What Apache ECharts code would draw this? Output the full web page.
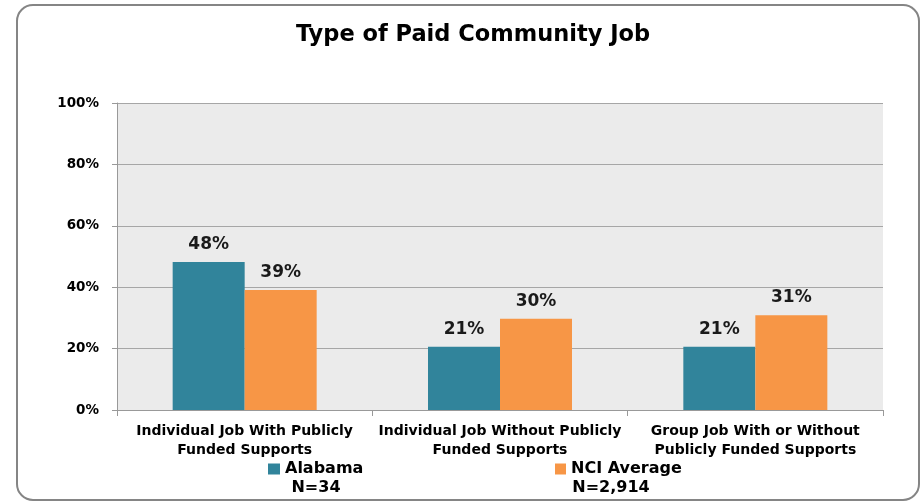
<!DOCTYPE html>
<html><head><meta charset="utf-8">
<script src="https://cdn.jsdelivr.net/npm/echarts@6/dist/echarts.min.js"></script>
<style>html,body{margin:0;padding:0;background:#fff}#c{width:922px;height:502px}</style>
</head><body><div id="c"></div>
<script>
var title = 'Type of Paid Community Job';
var categories = ['Individual Job With Publicly\nFunded Supports', 'Individual Job Without Publicly\nFunded Supports', 'Group Job With or Without\nPublicly Funded Supports'];
var seriesNames = ['Alabama', 'NCI Average'];
var sampleSizes = ['N=34', 'N=2,914'];
var alabama = [48.2, 20.6, 20.6];
var nciAverage = [39.1, 29.7, 30.9];
var yTicks = [0, 20, 40, 60, 80, 100];
var colors = ['#31849B', '#F79646'];

var chart = echarts.init(document.getElementById('c'));
var lbl = {show: true, position: 'top', distance: 9, color: '#1a1a1a', fontFamily: 'DejaVu Sans', fontWeight: 'bold', fontSize: 17,
  formatter: function (p) { return Math.round(p.value) + '%'; }};
chart.setOption({
  animation: false,
  title: {text: title, left: 468, textAlign: 'center', top: 19,
    textStyle: {fontFamily: 'DejaVu Sans', fontWeight: 'bold', fontSize: 22.5, color: '#000'}},
  grid: {left: 117, right: 39, top: 103, bottom: 92, show: true, backgroundColor: '#EBEBEB', borderWidth: 0},
  legend: [
    {data: [seriesNames[0]], left: 263, top: 456, itemWidth: 12, itemHeight: 11, itemGap: 5,
      textStyle: {fontFamily: 'DejaVu Sans', fontWeight: 'bold', fontSize: 16, color: '#000'}, icon: 'rect'},
    {data: [seriesNames[1]], left: 550, top: 456, itemWidth: 11, itemHeight: 11, itemGap: 3,
      textStyle: {fontFamily: 'DejaVu Sans', fontWeight: 'bold', fontSize: 16, color: '#000'}, icon: 'rect'}
  ],
  xAxis: {type: 'category', data: categories,
    axisLine: {lineStyle: {color: '#999', width: 1}},
    axisTick: {show: true, length: 6, lineStyle: {color: '#999'}},
    axisLabel: {interval: 0, fontFamily: 'DejaVu Sans', fontWeight: 'bold', fontSize: 14, color: '#000', lineHeight: 19, margin: 12}},
  yAxis: {type: 'value', min: yTicks[0], max: yTicks[yTicks.length - 1], interval: 20,
    axisLine: {show: true, lineStyle: {color: '#999'}},
    axisTick: {show: true, length: 5, lineStyle: {color: '#999'}},
    splitLine: {lineStyle: {color: '#A6A6A6', width: 1}},
    axisLabel: {formatter: '{value}%', fontFamily: 'DejaVu Sans', fontWeight: 'bold', fontSize: 13.5, color: '#000', margin: 18}},
  series: [
    {name: seriesNames[0], type: 'bar', data: alabama, barWidth: 72, barGap: '0%', itemStyle: {color: colors[0]}, label: lbl},
    {name: seriesNames[1], type: 'bar', data: nciAverage, barWidth: 72, barGap: '0%', itemStyle: {color: colors[1]}, label: lbl}
  ],
  graphic: [
    {type: 'rect', shape: {x: 17, y: 5, width: 902, height: 495, r: 16}, style: {fill: 'none', stroke: '#858585', lineWidth: 2}, silent: true},
    {type: 'text', x: 316, y: 488, style: {text: sampleSizes[0], font: 'bold 16px "DejaVu Sans"', fill: '#000', align: 'center', verticalAlign: 'middle'}},
    {type: 'text', x: 611, y: 488, style: {text: sampleSizes[1], font: 'bold 16px "DejaVu Sans"', fill: '#000', align: 'center', verticalAlign: 'middle'}}
  ]
});
</script></body></html>
